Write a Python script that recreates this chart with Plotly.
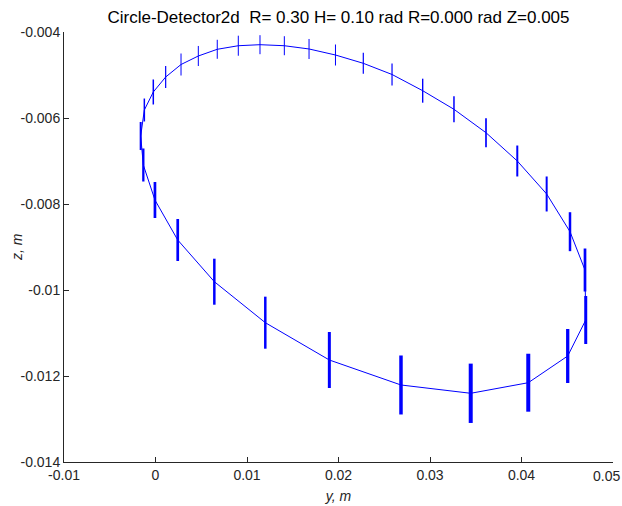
import plotly.graph_objects as go

# Data (y, m) horizontal, (z, m) vertical, half-length of error bars, bar line width
y_vals = [-0.00162, -0.00122, -0.00024, 0.00111, 0.00279, 0.00468, 0.00675, 0.00905,
          0.01142, 0.01408, 0.01678, 0.01967, 0.02271, 0.02585, 0.02920, 0.03262,
          0.03612, 0.03954, 0.04275, 0.04530, 0.04694, 0.04702, 0.04505, 0.04074,
          0.03445, 0.02683, 0.01900, 0.01200, 0.00643, 0.00243, -0.00006, -0.00133]
z_vals = [-0.006419, -0.005814, -0.005395, -0.005047, -0.004756, -0.004558, -0.004402, -0.004319,
          -0.004295, -0.004319, -0.004395, -0.004535, -0.004728, -0.004988, -0.005365, -0.005798,
          -0.006342, -0.007000, -0.007767, -0.008644, -0.009535, -0.010698, -0.011535, -0.012156,
          -0.012402, -0.012209, -0.011628, -0.010760, -0.009807, -0.008837, -0.007907, -0.007093]
z_err = [0.000326, 0.000267, 0.000291, 0.000256, 0.000256, 0.000233, 0.000221, 0.000233,
         0.000221, 0.000221, 0.000233, 0.000244, 0.000244, 0.000256, 0.000279, 0.000302,
         0.000337, 0.000360, 0.000407, 0.000453, 0.000500, 0.000558, 0.000628, 0.000674,
         0.000690, 0.000686, 0.000651, 0.000605, 0.000535, 0.000488, 0.000419, 0.000384]
bar_w = [2, 1.5, 1.5, 1.2, 1, 1, 1, 1, 1, 1, 1, 1, 1.2, 1.2, 1.4, 1.5,
         1.7, 2, 2, 2.5, 2.7, 3, 3.3, 4, 4, 3.5, 3, 2.5, 2.5, 2.7, 2.7, 2.3]

x_ticks = [-0.01, 0, 0.01, 0.02, 0.03, 0.04, 0.05]
x_tick_text = ["-0.01", "0", "0.01", "0.02", "0.03", "0.04", "0.05"]
y_ticks = [-0.004, -0.006, -0.008, -0.01, -0.012, -0.014]
y_tick_text = ["-0.004", "-0.006", "-0.008", "-0.01", "-0.012", "-0.014"]

title_text = "Circle-Detector2d\u00a0\u00a0R= 0.30 H= 0.10 rad R=0.000 rad Z=0.005"
x_title = "y, m"
y_title = "z, m"

blue = "#0000ff"
axis_color = "#262626"
font_family = "Liberation Sans, Arial"
fig = go.Figure()

# connecting line (closed loop)
fig.add_trace(go.Scatter(x=y_vals + y_vals[:1], y=z_vals + z_vals[:1], mode="lines",
                         line=dict(color=blue, width=1), hoverinfo="skip", showlegend=False))

# error bars, each with its own thickness
for xv, zv, ev, wv in zip(y_vals, z_vals, z_err, bar_w):
    fig.add_trace(go.Scatter(x=[xv], y=[zv], mode="markers", marker=dict(size=0.1, color=blue, opacity=0),
                             error_y=dict(type="data", array=[ev], visible=True, color=blue,
                                          thickness=wv, width=0),
                             showlegend=False))

axis_common = dict(showgrid=False, zeroline=False, showline=True, linecolor=axis_color, linewidth=1,
                   ticks="inside", ticklen=5, tickcolor=axis_color, mirror=False,
                   automargin=False,
                   tickfont=dict(family=font_family, size=14, color=axis_color))

# last x tick label drawn as right-aligned text so it stays inside the page
annotations = [
    dict(text=x_tick_text[-1], x=x_ticks[-1], xref="x", y=0, yref="paper",
         xanchor="right", yanchor="middle", xshift=9, yshift=-14, showarrow=False,
         font=dict(family=font_family, size=14, color=axis_color)),
    dict(text="<i>" + y_title + "</i>", x=0, xref="paper", y=0.5, yref="paper",
         xanchor="center", yanchor="middle", xshift=-47, textangle=-90, showarrow=False,
         font=dict(family=font_family, size=14, color=axis_color)),
]

fig.update_layout(
    width=622, height=506,
    margin=dict(l=64, r=9, t=32, b=44),
    paper_bgcolor="white", plot_bgcolor="white",
    title=dict(text=title_text, x=0.5, xref="paper", y=0.966, yanchor="middle",
               font=dict(family=font_family, size=17, color="#000000")),
    xaxis=dict(range=[-0.01, 0.05], tickvals=x_ticks, ticktext=x_tick_text[:-1] + [""],
               title=dict(text="<i>" + x_title + "</i>", standoff=9,
                          font=dict(family=font_family, size=14, color=axis_color)),
               **axis_common),
    yaxis=dict(range=[-0.014, -0.004], tickvals=y_ticks, ticktext=y_tick_text,
               **axis_common),
    annotations=annotations,
)

fig.write_html("out.html")
